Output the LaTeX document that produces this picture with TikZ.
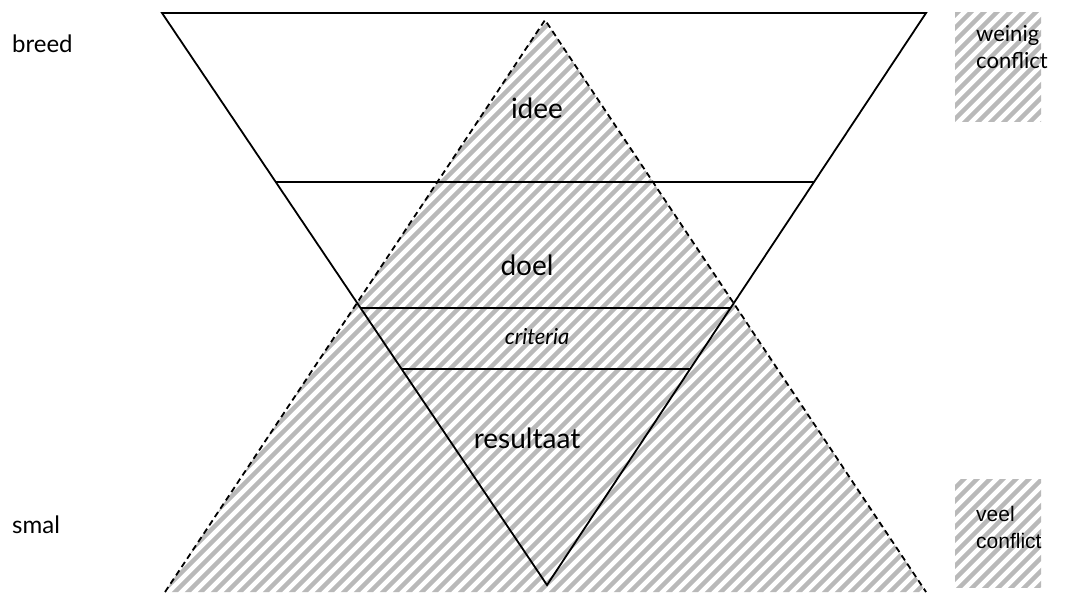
\documentclass[tikz,border=0pt]{standalone}
\usepackage{fontspec}
\setmainfont{Lato}
\newfontfamily\arialfont{Liberation Sans}
\usetikzlibrary{calc}

\tikzset{
  hatchline/.style={line width=4.3pt, gray!55},
  funnel/.style={line width=1.8pt, black, line join=miter},
  edgedash/.style={line width=1.8pt, black, dash pattern=on 6pt off 4pt},
  lbl/.style={inner sep=0pt, font=\fontsize{28}{32}\selectfont}
}

\begin{document}
\begin{tikzpicture}[x=1pt, y=-1pt]
    \useasboundingbox (0,0) rectangle (1075,593);

    % --- gearceerde driehoek (conflict) ---
    \coordinate (ptop) at (545,20);
    \coordinate (pleft) at (165,592);
    \coordinate (pright) at (926,592);
    \begin{scope}
        \clip (ptop) -- (pleft) -- (pright) -- cycle;
        \foreach \k in {-600,-587,...,1000}
            \draw[hatchline] (\k,600) -- ++(600,-600);
    \end{scope}
    \draw[edgedash] (pleft) -- (ptop) -- (pright);

    % --- gearceerde vakjes rechts ---
    \begin{scope}
        \clip (955,13) rectangle (1041,122);
        \foreach \k in {700,713,...,1060}
            \draw[hatchline] (\k,140) -- ++(160,-160);
    \end{scope}
    \begin{scope}
        \clip (955,479) rectangle (1041,587);
        \foreach \k in {700,713,...,1060}
            \draw[hatchline] (\k,600) -- ++(160,-160);
    \end{scope}

    % --- trechter ---
    \coordinate (ftl) at (162,13);
    \coordinate (ftr) at (926,13);
    \coordinate (fbot) at (547,585);
    \draw[funnel] (ftl) -- (ftr) -- (fbot) -- cycle;
    \draw[funnel] ($(ftl)!0.2955!(fbot)$) -- ($(ftr)!0.2955!(fbot)$);
    \draw[funnel] ($(ftl)!0.5157!(fbot)$) -- ($(ftr)!0.5157!(fbot)$);
    \draw[funnel] ($(ftl)!0.6224!(fbot)$) -- ($(ftr)!0.6224!(fbot)$);

    % --- teksten ---
    \node[lbl, anchor=base] (idee) at (537,119) {idee};
    \node[lbl, anchor=base] (doel) at (527,276) {doel};
    \node[lbl, anchor=base, font=\fontsize{22}{26}\selectfont\itshape] (crit) at (537,344) {criteria};
    \node[lbl, anchor=base] (res) at (527,448) {resultaat};

    \node[lbl, anchor=base west, font=\fontsize{24}{28}\selectfont] (breed) at (12,53) {breed};
    \node[lbl, anchor=base west, font=\fontsize{24}{28}\selectfont] (smal) at (12,533) {smal};

    \node[lbl, anchor=base west, font=\fontsize{22}{27}\selectfont, align=left] (weinig) at (976,69)
        {weinig\\conflict};
    \node[lbl, anchor=base west, font=\arialfont\fontsize{21}{27}\selectfont, align=left] (veel) at (976,548)
        {veel\\conflict};
\end{tikzpicture}
\end{document}
